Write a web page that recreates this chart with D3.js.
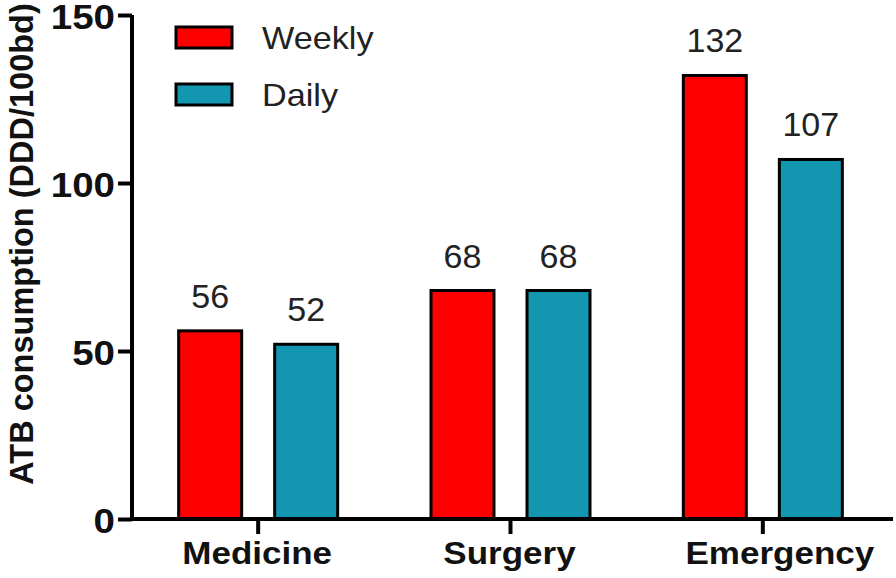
<!DOCTYPE html>
<html>
<head>
<meta charset="utf-8">
<script src="https://cdn.jsdelivr.net/npm/d3@7"></script>
<style>
  html, body { margin: 0; padding: 0; background: #fff; }
  svg { display: block; }
  text { font-family: Arial, "Liberation Sans", sans-serif; }
</style>
</head>
<body>
<svg id="chart" width="896" height="578"></svg>
<script>
const categories = ["Medicine", "Surgery", "Emergency"];
const seriesNames = ["Weekly", "Daily"];
const weeklyValues = [56, 68, 132];
const dailyValues = [52, 68, 107];
const yTickValues = [0, 50, 100, 150];
const yTitle = "ATB consumption (DDD/100bd)";
const colors = { Weekly: "#ff0000", Daily: "#1396b0" };

const svg = d3.select("#chart");
const x0 = 132, x1 = 889, xEnd = 893, yBottom = 519, yTop = 15;

const x = d3.scaleBand().domain(categories).range([x0, x1]).paddingInner(0).paddingOuter(0);
const y = d3.scaleLinear().domain([0, 150]).range([yBottom, yTop]);
const xs = d3.scaleBand().domain(seriesNames).range([-79.5, 79.5]).paddingInner(0.344).paddingOuter(0);

const data = categories.map((c, i) => ({
  cat: c,
  vals: [
    { s: "Weekly", v: weeklyValues[i] },
    { s: "Daily", v: dailyValues[i] }
  ]
}));

// bars
const g = svg.append("g");
const groups = g.selectAll("g.cat").data(data).join("g")
  .attr("transform", d => `translate(${x(d.cat) + x.bandwidth() / 2},0)`);

groups.selectAll("rect").data(d => d.vals).join("rect")
  .attr("x", d => xs(d.s))
  .attr("width", xs.bandwidth())
  .attr("y", d => y(d.v))
  .attr("height", d => y(0) - y(d.v))
  .attr("fill", d => colors[d.s])
  .attr("stroke", "#000")
  .attr("stroke-width", 3);

groups.selectAll("text.val").data(d => d.vals).join("text")
  .attr("class", "val")
  .attr("x", d => xs(d.s) + xs.bandwidth() / 2)
  .attr("y", d => y(d.v) - 23)
  .attr("text-anchor", "middle")
  .attr("font-size", 34)
  .attr("fill", "#222")
  .text(d => d.v);

// y axis
const yAxis = d3.axisLeft(y).tickValues(yTickValues).tickSize(14).tickPadding(0);
const gy = svg.append("g").attr("transform", `translate(${x0},0)`).call(yAxis);
gy.select(".domain").attr("d", `M0,${yTop}V${yBottom}`).attr("stroke", "#000").attr("stroke-width", 4);
gy.selectAll(".tick line").attr("stroke", "#000").attr("stroke-width", 4);
gy.selectAll(".tick text")
  .attr("font-size", 35).attr("font-weight", "bold").attr("fill", "#111")
  .attr("font-family", "Arial, 'Liberation Sans', sans-serif")
  .attr("x", 0)
  .attr("dy", "0.36em")
  .attr("transform", "translate(-17,0.5) scale(1.1,1)");

// x axis
const xAxis = d3.axisBottom(x).tickSize(15).tickPadding(8);
const gx = svg.append("g").attr("transform", `translate(0,${yBottom})`).call(xAxis);
gx.select(".domain").attr("d", `M${x0},0H${xEnd}`).attr("stroke", "#000").attr("stroke-width", 4);
gx.selectAll(".tick line").attr("stroke", "#000").attr("stroke-width", 4);
gx.selectAll(".tick text")
  .attr("font-size", 31).attr("font-weight", "bold").attr("fill", "#111")
  .attr("font-family", "Arial, 'Liberation Sans', sans-serif")
  .attr("dy", null)
  .attr("y", 45)
  .attr("transform", d => `translate(${d === "Emergency" ? 17 : -1},0) scale(1.13,1)`);

// y title
svg.append("text")
  .attr("transform", "rotate(-90)")
  .attr("x", -244)
  .attr("y", 33)
  .attr("text-anchor", "middle")
  .attr("font-size", 32.5)
  .attr("font-weight", "bold")
  .attr("fill", "#111")
  .text(yTitle);

// legend
const legend = svg.append("g");
const leg = legend.selectAll("g").data(seriesNames).join("g")
  .attr("transform", (d, i) => `translate(176,${27 + i * 57})`);
leg.append("rect")
  .attr("width", 56).attr("height", 21)
  .attr("fill", d => colors[d])
  .attr("stroke", "#000").attr("stroke-width", 3);
leg.append("text")
  .attr("transform", "translate(86,10.5) scale(1.07,1)")
  .attr("dy", "0.36em")
  .attr("font-size", 32).attr("fill", "#222")
  .text(d => d);
</script>
</body>
</html>
